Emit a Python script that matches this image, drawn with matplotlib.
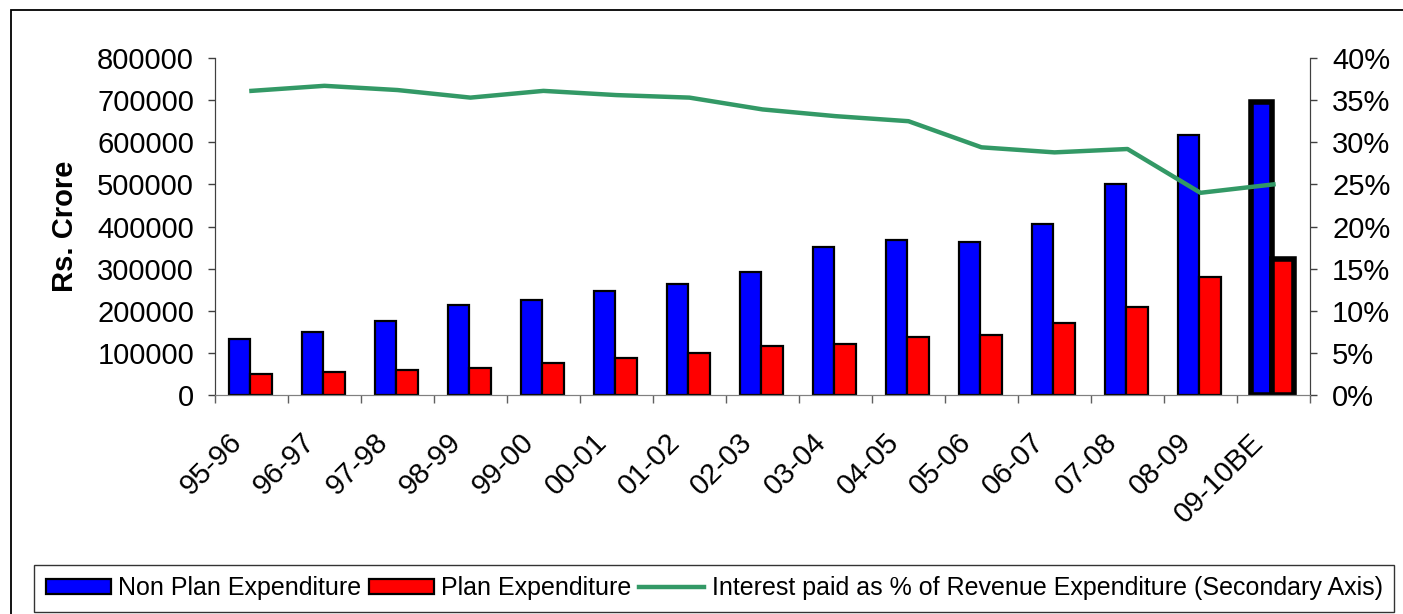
import numpy as np
import matplotlib
matplotlib.use("Agg")
import matplotlib.pyplot as plt
from matplotlib.patches import Rectangle
from matplotlib.ticker import FuncFormatter

plt.rcParams['font.family'] = ['Liberation Sans', 'DejaVu Sans']

years = ["95-96", "96-97", "97-98", "98-99", "99-00", "00-01", "01-02", "02-03",
         "03-04", "04-05", "05-06", "06-07", "07-08", "08-09", "09-10BE"]
non_plan = [133000, 149500, 176000, 214000, 226000, 247000, 264000, 292000,
            351000, 368000, 363000, 407000, 501000, 617000, 696000]
plan = [50000, 54500, 59500, 64000, 76000, 88000, 99500, 116000,
        121000, 137500, 142500, 171000, 209000, 280000, 323000]
interest_pct = [36.1, 36.7, 36.2, 35.3, 36.1, 35.6, 35.3, 33.9,
                33.1, 32.5, 29.4, 28.8, 29.2, 24.0, 25.0]

fig = plt.figure(figsize=(14.03, 6.14), dpi=100)
ax = fig.add_axes([0.1532, 0.3567, 0.7805, 0.5488])
ax2 = ax.twinx()

x = np.arange(len(years))
w = 0.293
edge_w = [1.6] * len(years)
edge_w[-1] = 4.0  # last year highlighted

ax.bar(x - w / 2 - 0.015, non_plan, w, color='#0000FF', edgecolor='black',
       linewidth=edge_w, label='Non Plan Expenditure', zorder=2)
ax.bar(x + w / 2 - 0.015, plan, w, color='#FF0000', edgecolor='black',
       linewidth=edge_w, label='Plan Expenditure', zorder=2)
ax2.plot(x, interest_pct, color='#339966', linewidth=3.2,
         label='Interest paid as % of Revenue Expenditure (Secondary Axis)')

ax.set_xlim(-0.5, len(years) - 0.5)
ax.set_ylim(0, 800000)
ax.set_yticks(np.arange(0, 800001, 100000))
ax2.set_ylim(0, 40)
ax2.set_yticks(np.arange(0, 41, 5))
ax2.yaxis.set_major_formatter(FuncFormatter(lambda v, p: '%d%%' % v))

fs = 21
# labels sit a little left of the group centre, like the excel original
ax.set_xticks(x - 0.33)
ax.set_xticklabels(years, rotation=45, ha='right', rotation_mode='anchor', fontsize=fs)
ax.set_xticks(np.arange(-0.5, len(years), 1), minor=True)
ax.tick_params(axis='x', which='major', length=0, pad=24)
ax.tick_params(axis='x', which='minor', length=6, width=1, color='#606060', direction='out')
ax.tick_params(axis='y', labelsize=fs, length=5, width=1, color='#404040', pad=10)
ax2.tick_params(axis='y', labelsize=fs, length=5, width=1, color='#404040', pad=11)

for a in (ax, ax2):
    a.spines['top'].set_visible(False)
    a.spines['left'].set_color('#404040')
    a.spines['right'].set_color('#404040')
    a.spines['bottom'].set_color('#808080')

ax.set_ylabel('Rs. Crore', fontsize=fs, fontweight='bold', labelpad=13)

# outer chart frame
fig.patches.append(Rectangle((11 / 1403, -0.05), 1.1, 1 - 10 / 614 + 0.05,
                             transform=fig.transFigure, fill=False,
                             edgecolor='black', linewidth=1.3))

h1, l1 = ax.get_legend_handles_labels()
h2, l2 = ax2.get_legend_handles_labels()
leg = fig.legend(h1 + h2, l1 + l2, loc='lower center', bbox_to_anchor=(0.509, 0.004),
                 ncol=3, fontsize=18, frameon=True, fancybox=False, edgecolor='black',
                 handlelength=2.6, handleheight=0.6, handletextpad=0.3, columnspacing=0.3,
                 borderpad=0.45, borderaxespad=0)
leg.get_frame().set_linewidth(1.0)
for p in leg.get_patches():
    p.set_linewidth(1.6)

fig.savefig('out.png', dpi=100)
